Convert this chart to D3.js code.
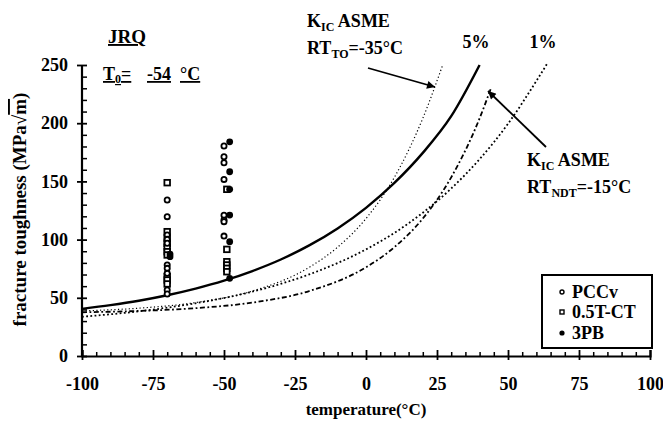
<!DOCTYPE html>
<html>
<head>
<meta charset="utf-8">
<script src="https://cdn.jsdelivr.net/npm/d3@7"></script>
<style>
  body { margin: 0; background: #fff; }
  text { font-family: "Liberation Serif", "Times New Roman", serif; font-weight: bold; fill: #000; }
  .axis path, .axis line { stroke: #000; }
</style>
</head>
<body>
<div id="chart-area"></div>
<script>
// temperature (°C) / fracture toughness (MPa√m)
var curveTemps5 = [-100, -90, -80, -70, -60, -50, -40, -30, -20, -10, 0, 10, 20, 30, 40];
var curveK5     = [40.5, 43.7, 47.5, 52.2, 57.9, 64.7, 73, 82.9, 95, 109.6, 127.3, 148.7, 174.5, 206, 250];

var curveTemps1 = [-100, -80, -60, -40, -20, 0, 10, 20, 30, 40, 50, 60, 64];
var curveK1     = [33.7, 38.4, 45.3, 55.3, 70.1, 91.6, 105.8, 123.1, 143.9, 169.1, 199.5, 236.3, 252];

var asme35Temps = [-100, -80, -60, -40, -20, -10, 0, 10, 20, 27];
var asme35K     = [38.7, 41.1, 45.9, 55.8, 76.2, 93.5, 118.1, 153.5, 204.2, 250];

var asme15Temps = [-100, -80, -60, -40, -20, 0, 10, 20, 30, 40, 44];
var asme15K     = [37.6, 38.7, 41.1, 45.9, 55.8, 76.2, 93.5, 118.1, 153.5, 204.2, 230];

// test data
var pccvT = [-70, -70, -70, -70, -70, -70, -70, -70, -70, -70,
             -50, -50, -50, -50, -50, -50, -50, -50];
var pccvK = [134, 119.7, 104, 100.2, 78.2, 75.3, 71, 56.7, 53.3, 96.8,
             180.4, 171.2, 166, 151.7, 116.8, 115.4, 103, 121];
var ctT = [-70, -70, -70, -70, -70, -70, -70, -70, -70, -70,
           -49, -49, -49, -49, -49, -49];
var ctK = [148.9, 106.8, 96.8, 93.3, 89.6, 86.8, 68.2, 65.3, 61.9, 101.1,
           143.2, 91.6, 81, 78.2, 75.3, 72.4];
var pbT = [-69, -69, -48, -48, -48, -48, -48, -48];
var pbK = [87.6, 85.3, 184, 158.3, 143.2, 121.1, 98.2, 66.7];

var xMajor = [-100, -75, -50, -25, 0, 25, 50, 75, 100];
var yMajor = [0, 50, 100, 150, 200, 250];

var width = 663, height = 422;

var x = d3.scaleLinear().domain([-100, 100]).range([82, 650]);
var y = d3.scaleLinear().domain([0, 250]).range([356, 65]);

var svg = d3.select("#chart-area").append("svg")
  .attr("width", width)
  .attr("height", height);

// minor ticks every 5 °C and every 10 units
var xMinor = d3.range(-100, 101, 5).filter(function (v) { return v % 25 !== 0; });
var yMinor = d3.range(0, 251, 10).filter(function (v) { return v % 50 !== 0; });

// x axis
svg.append("g").attr("class", "axis")
  .attr("transform", "translate(0," + y(0) + ")")
  .call(d3.axisBottom(x).tickValues(xMinor).tickSize(-4).tickFormat(""))
  .call(function (g) { g.select(".domain").remove(); })
  .selectAll("line").attr("stroke-width", 1.5);

svg.append("g").attr("class", "axis")
  .attr("transform", "translate(0," + y(0) + ")")
  .call(d3.axisBottom(x).tickValues(xMajor).tickSize(-6).tickFormat(""))
  .call(function (g) { g.select(".domain").attr("stroke-width", 2.2); })
  .selectAll("line").attr("stroke-width", 1.8);

var xAx = svg.append("g").attr("class", "axis")
  .attr("transform", "translate(0," + y(0) + ")")
  .call(d3.axisBottom(x).tickValues(xMajor).tickSize(4).tickPadding(17)
    .tickFormat(function (d) { return String(d); }));
xAx.select(".domain").remove();
xAx.selectAll("line").attr("stroke-width", 1.8);
xAx.selectAll("text").style("font-size", "18px").attr("fill", "#000");

// y axis
svg.append("g").attr("class", "axis")
  .attr("transform", "translate(" + x(-100) + ",0)")
  .call(d3.axisLeft(y).tickValues(yMinor).tickSize(-5).tickFormat(""))
  .call(function (g) { g.select(".domain").remove(); })
  .selectAll("line").attr("stroke-width", 1.5);

var yAx = svg.append("g").attr("class", "axis")
  .attr("transform", "translate(" + x(-100) + ",0)")
  .call(d3.axisLeft(y).tickValues(yMajor).tickSize(5).tickPadding(9));
yAx.select(".domain").attr("stroke-width", 2.2).attr("d", "M0," + y(0) + "V" + y(250));
yAx.selectAll("line").attr("x2", -5).attr("x1", 5).attr("stroke-width", 1.8);
yAx.selectAll("text").style("font-size", "18px").attr("fill", "#000");

// axis titles
svg.append("text")
  .attr("x", x(0))
  .attr("y", 415)
  .attr("text-anchor", "middle")
  .style("font-size", "17px")
  .text("temperature(°C)");

var yl = svg.append("text")
  .attr("transform", "translate(26," + ((y(0) + y(250)) / 2 - 1) + ") rotate(-90)")
  .attr("text-anchor", "middle")
  .style("font-size", "19px");
yl.append("tspan").text("fracture toughness (MPa√");
yl.append("tspan").style("text-decoration", "overline").text("m");
yl.append("tspan").text(")");

// curves
var line = d3.line()
  .x(function (d) { return x(d[0]); })
  .y(function (d) { return y(d[1]); })
  .curve(d3.curveMonotoneX);

function zip(a, b) { return a.map(function (v, i) { return [v, b[i]]; }); }

svg.append("path")
  .datum(zip(asme35Temps, asme35K))
  .attr("d", line)
  .attr("fill", "none").attr("stroke", "#000")
  .attr("stroke-width", 1.2).attr("stroke-dasharray", "1.2,2.4");

svg.append("path")
  .datum(zip(curveTemps1, curveK1))
  .attr("d", line)
  .attr("fill", "none").attr("stroke", "#000")
  .attr("stroke-width", 1.8).attr("stroke-dasharray", "1.8,2.4");

svg.append("path")
  .datum(zip(asme15Temps, asme15K))
  .attr("d", line)
  .attr("fill", "none").attr("stroke", "#000")
  .attr("stroke-width", 1.8).attr("stroke-dasharray", "5,2.5,1.8,2.5");

svg.append("path")
  .datum(zip(curveTemps5, curveK5))
  .attr("d", line)
  .attr("fill", "none").attr("stroke", "#000")
  .attr("stroke-width", 2.4);

// data points
svg.selectAll("rect.ct")
  .data(zip(ctT, ctK))
  .enter().append("rect")
  .attr("class", "ct")
  .attr("x", function (d) { return x(d[0]) - 2.8; })
  .attr("y", function (d) { return y(d[1]) - 2.8; })
  .attr("width", 5.6).attr("height", 5.6)
  .attr("fill", "#fff").attr("stroke", "#000").attr("stroke-width", 1.8);

svg.selectAll("circle.pccv")
  .data(zip(pccvT, pccvK))
  .enter().append("circle")
  .attr("class", "pccv")
  .attr("cx", function (d) { return x(d[0]); })
  .attr("cy", function (d) { return y(d[1]); })
  .attr("r", 2.6)
  .attr("fill", "#fff").attr("stroke", "#000").attr("stroke-width", 1.8);

svg.selectAll("circle.pb")
  .data(zip(pbT, pbK))
  .enter().append("circle")
  .attr("class", "pb")
  .attr("cx", function (d) { return x(d[0]); })
  .attr("cy", function (d) { return y(d[1]); })
  .attr("r", 3.4)
  .attr("fill", "#000");

// legend
var lg = svg.append("g").attr("transform", "translate(542,275)");
lg.append("rect").attr("width", 110).attr("height", 73)
  .attr("fill", "#fff").attr("stroke", "#000").attr("stroke-width", 2);
lg.append("circle").attr("cx", 20).attr("cy", 17).attr("r", 2)
  .attr("fill", "#fff").attr("stroke", "#000").attr("stroke-width", 1.4);
lg.append("rect").attr("x", 18).attr("y", 35).attr("width", 4).attr("height", 4)
  .attr("fill", "#fff").attr("stroke", "#000").attr("stroke-width", 1.4);
lg.append("circle").attr("cx", 20).attr("cy", 58).attr("r", 2.6).attr("fill", "#000");
[["PCCv", 23], ["0.5T-CT", 43], ["3PB", 64]].forEach(function (t) {
  lg.append("text").attr("x", 30).attr("y", t[1]).style("font-size", "18px").text(t[0]);
});

// annotations
svg.append("text").attr("x", 108).attr("y", 43)
  .style("font-size", "19px").style("text-decoration", "underline").text("JRQ");

var t0 = svg.append("text").attr("x", 103).attr("y", 80).style("font-size", "18px");
t0.append("tspan").style("text-decoration", "underline").text("T");
t0.append("tspan").attr("dy", 3).style("font-size", "12px").style("text-decoration", "underline").text("0");
t0.append("tspan").attr("dy", -3).style("text-decoration", "underline").text("=");
svg.append("text").attr("x", 147).attr("y", 80).style("font-size", "18px")
  .style("text-decoration", "underline").text("-54");
svg.append("text").attr("x", 180).attr("y", 80).style("font-size", "18px")
  .style("text-decoration", "underline").text("°C");

function kic(px, py, sub, val) {
  var a = svg.append("text").attr("x", px).attr("y", py).style("font-size", "18px");
  a.append("tspan").text("K");
  a.append("tspan").attr("dy", 4).style("font-size", "12px").text("IC");
  a.append("tspan").attr("dy", -4).text(" ASME");
  var b = svg.append("text").attr("x", px).attr("y", py + 27).style("font-size", "18px");
  b.append("tspan").text("RT");
  b.append("tspan").attr("dy", 4).style("font-size", "12px").text(sub);
  b.append("tspan").attr("dy", -4).text(val);
}
kic(307, 27, "TO", "=-35°C");
kic(527, 166, "NDT", "=-15°C");

svg.append("text").attr("x", 476).attr("y", 48).attr("text-anchor", "middle")
  .style("font-size", "18px").text("5%");
svg.append("text").attr("x", 543).attr("y", 48).attr("text-anchor", "middle")
  .style("font-size", "18px").text("1%");

svg.append("defs").append("marker")
  .attr("id", "head").attr("viewBox", "0 0 10 10")
  .attr("refX", 10).attr("refY", 5)
  .attr("markerWidth", 12).attr("markerHeight", 8)
  .attr("markerUnits", "userSpaceOnUse")
  .attr("orient", "auto")
  .append("path").attr("d", "M0,0L10,5L0,10z").attr("fill", "#000");

svg.append("line").attr("x1", 368).attr("y1", 68).attr("x2", 435).attr("y2", 87)
  .attr("stroke", "#000").attr("stroke-width", 1.8).attr("marker-end", "url(#head)");
svg.append("line").attr("x1", 546).attr("y1", 147).attr("x2", 488).attr("y2", 91)
  .attr("stroke", "#000").attr("stroke-width", 1.8).attr("marker-end", "url(#head)");
</script>
</body>
</html>
